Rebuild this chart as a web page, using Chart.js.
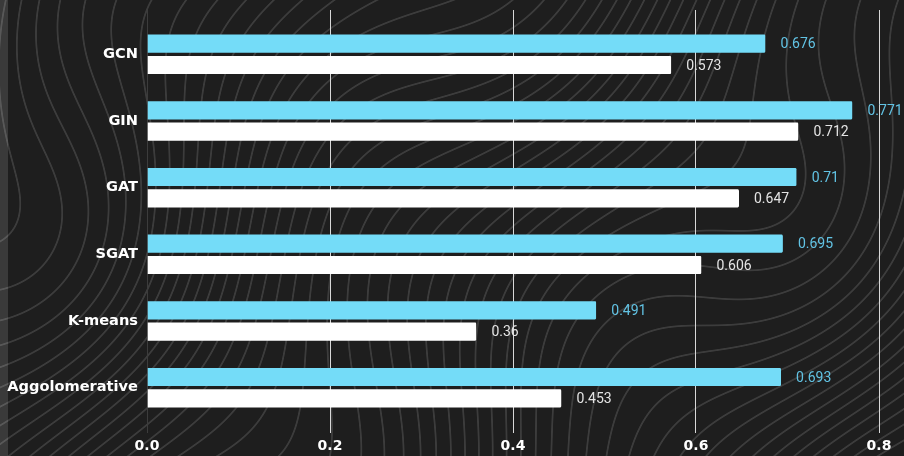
<!DOCTYPE html>
<html lang="en">
<head>
<meta charset="UTF-8">
<title>Clustering scores</title>
<script src="https://cdn.jsdelivr.net/npm/chart.js"></script>
<style>
    html, body { margin: 0; padding: 0; background: #1e1e1e; }
    #wrap { position: relative; width: 904px; height: 456px; overflow: hidden; }
    #bg, #chartBox { position: absolute; left: 0; top: 0; width: 904px; height: 456px; }
</style>
</head>
<body>
<div id="wrap">
    <canvas id="bg" width="904" height="456"></canvas>
    <div id="chartBox"><canvas id="scoreChart"></canvas></div>
</div>

<script>
// data
const categories = ["GCN", "GIN", "GAT", "SGAT", "K-means", "Aggolomerative"];
const scoresBlue = [0.676, 0.771, 0.71, 0.695, 0.491, 0.693];
const scoresWhite = [0.573, 0.712, 0.647, 0.606, 0.36, 0.453];
const xTicks = [0, 0.2, 0.4, 0.6, 0.8];

// topographic-style background: iso-lines of a smooth field
function drawBackground() {
    const c = document.getElementById("bg");
    const ctx = c.getContext("2d");
    const W = c.width, H = c.height;
    const img = ctx.createImageData(W, H);
    const f = (x, y) =>
        x / 24 + y / 38
        + 2.4 * Math.sin(x / 115 + 0.7) * Math.cos(y / 85)
        + 1.7 * Math.sin((x - y) / 150)
        + 1.1 * Math.cos(x / 60 + y / 140);
    for (let y = 0; y < H; y++) {
        for (let x = 0; x < W; x++) {
            const v = f(x, y);
            const gx = f(x + 0.5, y) - f(x - 0.5, y);
            const gy = f(x, y + 0.5) - f(x, y - 0.5);
            const g = Math.hypot(gx, gy) || 1e-6;
            const fr = v - Math.floor(v);
            const d = Math.min(fr, 1 - fr) / g;
            const a = Math.max(0, Math.min(1, 1.6 - d / 0.8));
            const base = x < 8 ? 58 : 30;
            const lum = base + a * 30;
            const i = (y * W + x) * 4;
            img.data[i] = lum;
            img.data[i + 1] = lum;
            img.data[i + 2] = lum;
            img.data[i + 3] = 255;
        }
    }
    ctx.putImageData(img, 0, 0);
}
drawBackground();

// value text at the end of every bar
const valueLabels = {
    id: "valueLabels",
    afterDatasetsDraw(chart) {
        const ctx = chart.ctx;
        ctx.save();
        ctx.font = "14px Roboto";
        ctx.textAlign = "left";
        ctx.textBaseline = "middle";
        chart.data.datasets.forEach((ds, di) => {
            const meta = chart.getDatasetMeta(di);
            meta.data.forEach((bar, i) => {
                ctx.fillStyle = ds.labelColor;
                ctx.fillText(String(ds.data[i]), bar.x + 15, bar.y + 1);
            });
        });
        ctx.restore();
    }
};

const gridColor = ctx => (ctx.tick && ctx.tick.value === 0) ? "#3c3c3c" : "#d8d8d8";

new Chart(document.getElementById("scoreChart"), {
    type: "bar",
    data: {
        labels: categories,
        datasets: [
            {
                data: scoresBlue,
                backgroundColor: "#74dcf8",
                borderColor: "rgba(0,0,0,0)",
                borderWidth: { top: 1.6, bottom: 1.6, left: 0, right: 0 },
                borderRadius: 3,
                labelColor: "#62c3e4"
            },
            {
                data: scoresWhite,
                backgroundColor: "#ffffff",
                borderColor: "rgba(0,0,0,0)",
                borderWidth: { top: 1.6, bottom: 1.6, left: 0, right: 0 },
                borderRadius: 3,
                labelColor: "#e4e4e4"
            }
        ]
    },
    options: {
        indexAxis: "y",
        responsive: true,
        maintainAspectRatio: false,
        animation: false,
        categoryPercentage: 0.64,
        barPercentage: 1.0,
        layout: { padding: { top: 10, right: 25, left: 0, bottom: 0 } },
        plugins: {
            legend: { display: false },
            tooltip: { enabled: false }
        },
        scales: {
            x: {
                min: 0,
                max: 0.8,
                afterBuildTicks: s => { s.ticks = xTicks.map(v => ({ value: v })); },
                afterFit: s => { s.height = 35; },
                border: { display: false },
                grid: { color: gridColor, lineWidth: 1, drawTicks: true, tickLength: 12 },
                ticks: {
                    padding: 5,
                    color: "#ffffff",
                    font: { family: "DejaVu Sans", weight: "bold", size: 14 },
                    callback: v => Number(v).toFixed(1)
                }
            },
            x2: {
                axis: "x",
                position: "top",
                min: 0,
                max: 0.8,
                afterBuildTicks: s => { s.ticks = xTicks.map(v => ({ value: v })); },
                afterFit: s => { s.height = 11; },
                border: { display: false },
                grid: { color: gridColor, drawOnChartArea: false, drawTicks: true, tickLength: 11 },
                ticks: { display: false }
            },
            y: {
                afterFit: s => { s.width = 147; },
                border: { display: false },
                grid: { display: false, drawTicks: false },
                ticks: {
                    padding: 9,
                    color: "#ffffff",
                    font: { family: "DejaVu Sans", weight: "bold", size: 14.6 }
                }
            }
        }
    },
    plugins: [valueLabels]
});
</script>
</body>
</html>
